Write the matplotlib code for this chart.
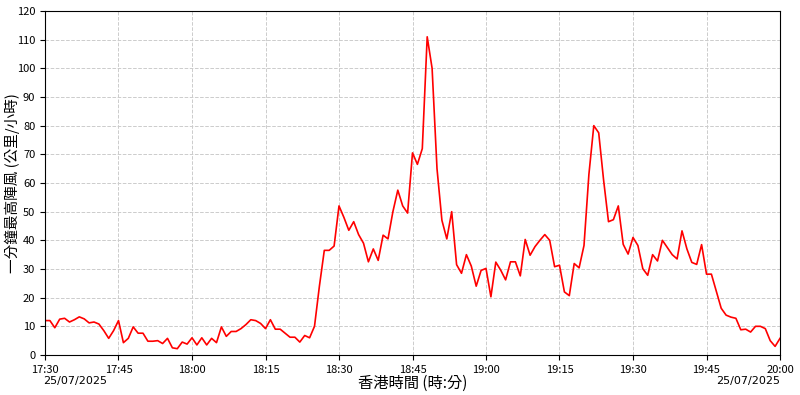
import datetime as dt

import matplotlib
matplotlib.use("Agg")
from matplotlib import pyplot as plt
import matplotlib.dates as mdates

plt.rcParams['font.family'] = ['Noto Sans CJK TC', 'DejaVu Sans']

# one value per minute, 17:30 -> 20:00
start_time = dt.datetime(2025, 7, 25, 17, 30)
gust = [
    12, 12, 9.5, 12.5, 12.8, 11.5, 12.3, 13.3, 12.6, 11.2,
    11.5, 10.8, 8.5, 5.8, 8.5, 12, 4.3, 5.8, 9.8, 7.6,
    7.6, 4.8, 4.8, 5, 4, 5.8, 2.5, 2.2, 4.5, 3.8,
    6, 3.5, 6, 3.5, 5.8, 4.3, 9.8, 6.5, 8.2, 8.2,
    9.2, 10.6, 12.3, 12, 11, 9.2, 12.3, 9, 9, 7.6,
    6.2, 6.2, 4.5, 6.8, 6, 10, 24, 36.5, 36.5, 38,
    52, 48, 43.5, 46.5, 42, 39, 32.5, 37, 33, 41.8,
    40.5, 50, 57.5, 52, 49.5, 70.5, 66.5, 72, 111, 100,
    65, 47, 40.5, 50, 31.5, 28.5, 35, 31, 24, 29.5,
    30.2, 20.3, 32.4, 29.6, 26.2, 32.5, 32.5, 27.6, 40.3, 34.8,
    37.8, 40, 42, 40, 30.8, 31.3, 22, 20.7, 31.9, 30.4,
    38.2, 63, 80, 77.5, 61, 46.5, 47.2, 52, 38.6, 35.2,
    41, 38.2, 30.1, 27.8, 35, 32.8, 40, 37.5, 35, 33.5,
    43.3, 37, 32.3, 31.6, 38.5, 28.2, 28.2, 22.3, 16.3, 13.9,
    13.2, 12.8, 8.8, 9, 8, 10, 10, 9.2, 5, 3,
    5.8,
]
times = [start_time + dt.timedelta(minutes=i) for i in range(len(gust))]

y_ticks = list(range(0, 121, 10))
date_label = "25/07/2025"

fig = plt.figure(figsize=(8, 3.95), dpi=100)
ax = fig.add_axes([0.05625, 0.1013, 0.91875, 0.8709])

ax.plot(times, gust, color="red", linewidth=1.2)

ax.set_xlim(times[0], times[-1])
ax.set_ylim(0, 120)
ax.set_yticks(y_ticks)
ax.xaxis.set_major_locator(mdates.MinuteLocator(byminute=[0, 15, 30, 45]))
ax.xaxis.set_major_formatter(mdates.DateFormatter("%H:%M"))
ax.tick_params(axis="both", labelsize=8)

ax.grid(True, linestyle="--", color="#cccccc", linewidth=0.7)

ax.text(-0.003, -0.06, date_label, transform=ax.transAxes, fontsize=8,
        family=['DejaVu Sans'], ha="left", va="top")
ax.text(1, -0.06, date_label, transform=ax.transAxes, fontsize=8,
        family=['DejaVu Sans'], ha="right", va="top")

ax.set_xlabel("香港時間 (時:分)", fontsize=11)
ax.xaxis.set_label_coords(0.5, -0.058)
ax.set_ylabel("一分鐘最高陣風 (公里/小時)", fontsize=10.5)
ax.yaxis.set_label_coords(-0.034, 0.5)

fig.savefig("out.png", dpi=100)
